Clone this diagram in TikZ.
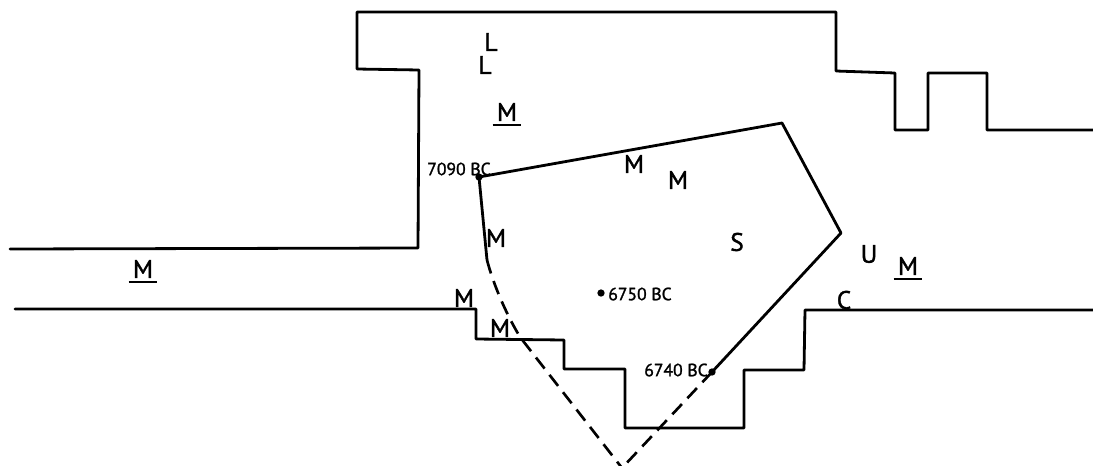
\documentclass[tikz,border=0pt]{standalone}
\usepackage{fontspec}
\setmainfont[FakeBold=1.5]{PT Sans}
\tikzset{
  wall/.style={line width=2.1pt,line join=round,line cap=round},
  cut/.style={line width=2pt,line join=round,dash pattern=on 10.5pt off 6pt},
  big/.style={inner sep=0pt,font=\fontsize{19}{20}\selectfont},
  small/.style={inner sep=0pt,font=\fontsize{13.2}{14}\selectfont},
  pt/.style={circle,fill=black,inner sep=0pt,minimum size=5.5pt},
  ulbar/.style={line width=1.9pt}
}
\begin{document}
\begin{tikzpicture}[x=0.75pt,y=-0.75pt]
\useasboundingbox (0,0) rectangle (1093,465);
\coordinate (tl) at (10,249);
\coordinate (tr) at (1093,130);
\coordinate (bl) at (15,309);
\coordinate (br) at (1093,310);
\draw[wall] (tr) -- (987,130) -- (987,73) -- (928,73) -- (928,130) -- (895,130) -- (895,73) -- (836,71) -- (836,12) -- (357,12) -- (357,69) -- (419,70) -- (418,248) -- (tl);
\draw[wall] (bl) -- (476,309) -- (476,339) -- (564,340) -- (564,369) -- (625,369) -- (625,428) -- (744,428) -- (744,370) -- (804,370) -- (805,310) -- (br);
\node[pt] (a) at (479,177) {};
\node[pt] (b) at (712,372) {};
\node[pt] (c) at (601,293) {};
\coordinate (ls) at (487,260);
\coordinate (bot) at (622,468);
\draw[wall] (ls) -- (a.center) -- (782,123) -- (841,233) -- (b.center);
\draw[cut] (b.center) -- (bot);
\draw[cut] (ls) .. controls (493,283) and (505,312) .. (520,337) -- (bot);
\node[big] at (491,42) {L};
\node[big] at (485,65) {L};
\node[big] (m1) at (507,112) {M};
\node[big] (m2) at (143,269) {M};
\node[big] (m3) at (908,266) {M};
\draw[ulbar] ([xshift=-3pt,yshift=-3pt]m1.south west) -- ([xshift=3pt,yshift=-3pt]m1.south east);
\draw[ulbar] ([xshift=-3pt,yshift=-3pt]m2.south west) -- ([xshift=3pt,yshift=-3pt]m2.south east);
\draw[ulbar] ([xshift=-3pt,yshift=-3pt]m3.south west) -- ([xshift=3pt,yshift=-3pt]m3.south east);
\node[big] at (634,164) {M};
\node[big] at (678,180) {M};
\node[big] at (496,238) {M};
\node[big] at (737,242) {S};
\node[big] at (869,254) {U};
\node[big] at (844,300) {C};
\node[big] at (464,298) {M};
\node[big] at (500,328) {M};
\node[small] at (459,169) {7090 BC};
\node[small] at (640,294) {6750 BC};
\node[small] at (676,370) {6740 BC};
\end{tikzpicture}
\end{document}
